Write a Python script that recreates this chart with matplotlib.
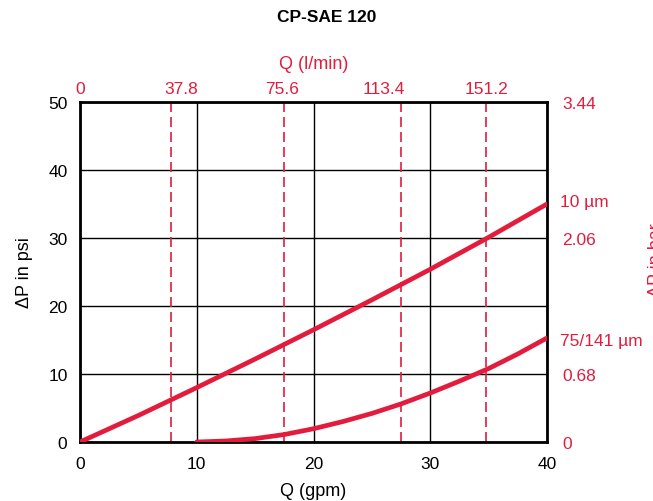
import matplotlib.pyplot as plt

plt.rcParams['font.family'] = ['Liberation Sans', 'DejaVu Sans']

red = '#e31c3d'

# 数据 (gpm -> psi)
q_10um = [0, 5, 10, 15, 20, 25, 30, 35, 40]
dp_10um = [0, 3.9, 8.0, 12.2, 16.5, 20.9, 25.4, 30.1, 35.0]
q_75um = [10, 12.5, 15, 17.5, 20, 22.5, 25, 27.5, 30, 32.5, 35, 37.5, 40]
dp_75um = [0, 0.15, 0.5, 1.1, 1.95, 3.0, 4.2, 5.6, 7.2, 8.95, 10.8, 12.95, 15.3]

# 顶部 l/min 刻度
lpm_labels = ['0', '37.8', '75.6', '113.4', '151.2']
lpm_label_pos = [0, 8.65, 17.34, 26.04, 34.78]
lpm_dash_pos = [7.8, 17.5, 27.5, 34.8]

# 右侧 bar 刻度
bar_labels = ['0', '0.68', '2.06', '3.44']
bar_pos = [0, 10, 30, 50]

fig = plt.figure(figsize=(6.53, 5.02), dpi=100)
ax = fig.add_axes([80 / 653, 1 - 443 / 502, 467 / 653, 340 / 502])

ax.set_xlim(0, 40)
ax.set_ylim(0, 50)
ax.set_xticks([0, 10, 20, 30, 40])
ax.set_yticks([0, 10, 20, 30, 40, 50])
ax.grid(True, color='black', linewidth=1)
ax.tick_params(length=0, labelsize=12.5)
ax.tick_params(axis='x', pad=10)
ax.tick_params(axis='y', pad=9)
for s in ax.spines.values():
    s.set_linewidth(2)

for x in lpm_dash_pos:
    ax.axvline(x, color=red, linestyle=(0, (6, 3)), linewidth=1.2)

ax.plot(q_10um, dp_10um, color=red, linewidth=3.4, solid_capstyle='round', zorder=5)
ax.plot(q_75um, dp_75um, color=red, linewidth=3.4, solid_capstyle='round', zorder=5)

ax.set_xlabel('Q (gpm)', fontsize=13, labelpad=8)
ax.set_ylabel('ΔP in psi', fontsize=13, labelpad=11)

# 顶部
top = ax.twiny()
top.set_xlim(0, 40)
top.set_xticks(lpm_label_pos)
top.set_xticklabels(lpm_labels, color=red, fontsize=12.5)
top.tick_params(length=0, pad=4)
top.set_xlabel('Q (l/min)', color=red, fontsize=13, labelpad=10)
for s in top.spines.values():
    s.set_visible(False)

# 右侧
right = ax.twinx()
right.set_ylim(0, 50)
right.set_yticks(bar_pos)
right.set_yticklabels(bar_labels, color=red, fontsize=12.5)
right.tick_params(length=0, pad=11)
for s in right.spines.values():
    s.set_visible(False)

right.text(1.027, 35.4, '10 µm', color=red, fontsize=12.5, va='center',
           transform=right.get_yaxis_transform())
right.text(1.027, 14.9, '75/141 µm', color=red, fontsize=12.5, va='center',
           transform=right.get_yaxis_transform())

fig.text(0.5, 1 - 18 / 502, 'CP-SAE 120', ha='center', va='center',
         fontsize=12.5, fontweight='bold')
fig.text(648 / 653, 1 - 260 / 502, 'ΔP in bar', color=red, fontsize=13,
         rotation=90, ha='left', va='center')

fig.savefig('out.png', dpi=100)
